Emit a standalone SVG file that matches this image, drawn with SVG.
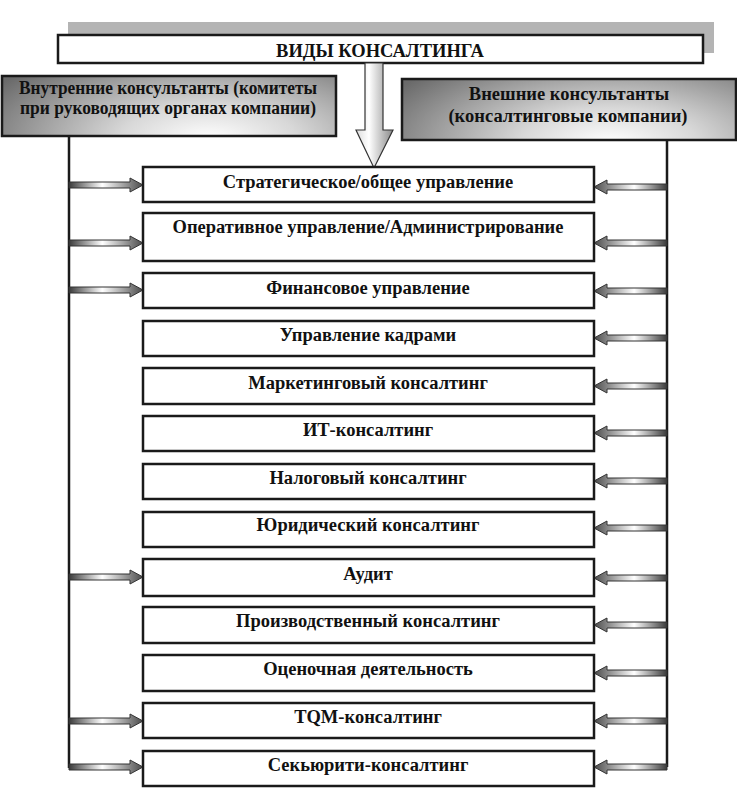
<svg xmlns="http://www.w3.org/2000/svg" width="737" height="788" viewBox="0 0 737 788">
<style>
.box{fill:#fff;stroke:#1a1a1a;stroke-width:2.5}
.t{font-family:"Liberation Serif","Times New Roman",serif;font-weight:bold;font-size:18.5px;fill:#111;text-anchor:middle}
.arr{stroke:#333;stroke-width:1}
.vline{stroke:#1a1a1a;stroke-width:2.5;fill:none}
</style>
<defs>
<radialGradient id="gBox" cx="0.62" cy="1.05" r="0.75" gradientTransform="translate(0.62 1.05) scale(1 2.2) translate(-0.62 -1.05)">
<stop offset="0" stop-color="#ffffff"/>
<stop offset="0.35" stop-color="#d8d8d8"/>
<stop offset="1" stop-color="#6a6a6a"/>
</radialGradient>
<linearGradient id="gL" x1="0" y1="0" x2="1" y2="0">
<stop offset="0" stop-color="#3a3a3a"/>
<stop offset="0.45" stop-color="#ffffff"/>
<stop offset="1" stop-color="#4a4a4a"/>
</linearGradient>
<linearGradient id="gR" x1="1" y1="0" x2="0" y2="0">
<stop offset="0" stop-color="#3a3a3a"/>
<stop offset="0.45" stop-color="#ffffff"/>
<stop offset="1" stop-color="#4a4a4a"/>
</linearGradient>
<linearGradient id="gDown" x1="0" y1="0" x2="1" y2="0">
<stop offset="0" stop-color="#dcdcdc"/>
<stop offset="0.35" stop-color="#ffffff"/>
<stop offset="1" stop-color="#8a8a8a"/>
</linearGradient>
<path id="la" d="M0,-3 H61 V-7 L74,0 L61,7 V3 H0 Z"/>
<path id="ra" d="M0,-3 H-60 V-7 L-73,0 L-60,7 V3 H0 Z"/>
</defs>

<g id="title">
<rect x="68" y="22" width="646" height="31" fill="#b4b4b4"/>
<rect class="box" x="58" y="35" width="645" height="28" stroke-width="3"/>
<text class="t" x="380" y="57">ВИДЫ КОНСАЛТИНГА</text>
</g>

<g id="internal">
<rect x="2" y="76" width="334" height="60" fill="url(#gBox)" stroke="#1a1a1a" stroke-width="2.5"/>
<text class="t" x="168" y="94" font-size="17" textLength="298" lengthAdjust="spacingAndGlyphs">Внутренние консультанты (комитеты</text>
<text class="t" x="168" y="114" font-size="17" textLength="296" lengthAdjust="spacingAndGlyphs">при руководящих органах компании)</text>
</g>

<g id="external">
<rect x="402" y="79" width="334" height="61" fill="url(#gBox)" stroke="#1a1a1a" stroke-width="2.5"/>
<text class="t" x="569" y="100" font-size="19">Внешние консультанты</text>
<text class="t" x="568" y="122" font-size="19">(консалтинговые компании)</text>
</g>

<g id="connectors">
<path d="M365,63 V130 H356 L374,168 L393,130 H383 V63 Z" fill="url(#gDown)" stroke="#333" stroke-width="1.2"/>
<path class="vline" d="M69,136 V768"/>
<path class="vline" d="M667,140 V767"/>
<use href="#la" class="arr" fill="url(#gL)" x="69" y="185"/>
<use href="#la" class="arr" fill="url(#gL)" x="69" y="243"/>
<use href="#la" class="arr" fill="url(#gL)" x="69" y="290"/>
<use href="#la" class="arr" fill="url(#gL)" x="69" y="577"/>
<use href="#la" class="arr" fill="url(#gL)" x="69" y="721"/>
<use href="#la" class="arr" fill="url(#gL)" x="69" y="767"/>
<use href="#ra" class="arr" fill="url(#gR)" x="667" y="187"/>
<use href="#ra" class="arr" fill="url(#gR)" x="667" y="243"/>
<use href="#ra" class="arr" fill="url(#gR)" x="667" y="291"/>
<use href="#ra" class="arr" fill="url(#gR)" x="667" y="338"/>
<use href="#ra" class="arr" fill="url(#gR)" x="667" y="386"/>
<use href="#ra" class="arr" fill="url(#gR)" x="667" y="433"/>
<use href="#ra" class="arr" fill="url(#gR)" x="667" y="481"/>
<use href="#ra" class="arr" fill="url(#gR)" x="667" y="528"/>
<use href="#ra" class="arr" fill="url(#gR)" x="667" y="578"/>
<use href="#ra" class="arr" fill="url(#gR)" x="667" y="625"/>
<use href="#ra" class="arr" fill="url(#gR)" x="667" y="673"/>
<use href="#ra" class="arr" fill="url(#gR)" x="667" y="721"/>
<use href="#ra" class="arr" fill="url(#gR)" x="667" y="767"/>
</g>

<g id="n1"><rect class="box" x="143" y="167" width="451" height="35"/><text class="t" x="368" y="188">Стратегическое/общее управление</text></g>
<g id="n2"><rect class="box" x="143" y="213" width="451" height="48"/><text class="t" x="368" y="233">Оперативное управление/Администрирование</text></g>
<g id="n3"><rect class="box" x="143" y="273" width="451" height="35"/><text class="t" x="368" y="294">Финансовое управление</text></g>
<g id="n4"><rect class="box" x="143" y="321" width="451" height="35"/><text class="t" x="368" y="341">Управление кадрами</text></g>
<g id="n5"><rect class="box" x="143" y="368" width="451" height="36"/><text class="t" x="368" y="389">Маркетинговый консалтинг</text></g>
<g id="n6"><rect class="box" x="143" y="416" width="451" height="35"/><text class="t" x="368" y="436">ИТ-консалтинг</text></g>
<g id="n7"><rect class="box" x="143" y="464" width="451" height="35"/><text class="t" x="368" y="484">Налоговый консалтинг</text></g>
<g id="n8"><rect class="box" x="143" y="512" width="451" height="35"/><text class="t" x="368" y="531">Юридический консалтинг</text></g>
<g id="n9"><rect class="box" x="143" y="559" width="451" height="37"/><text class="t" x="368" y="580">Аудит</text></g>
<g id="n10"><rect class="box" x="143" y="607" width="451" height="36"/><text class="t" x="368" y="627">Производственный консалтинг</text></g>
<g id="n11"><rect class="box" x="143" y="655" width="451" height="36"/><text class="t" x="368" y="675">Оценочная деятельность</text></g>
<g id="n12"><rect class="box" x="143" y="703" width="451" height="35"/><text class="t" x="368" y="723">TQM-консалтинг</text></g>
<g id="n13"><rect class="box" x="143" y="751" width="451" height="35"/><text class="t" x="368" y="771">Секьюрити-консалтинг</text></g>
</svg>
